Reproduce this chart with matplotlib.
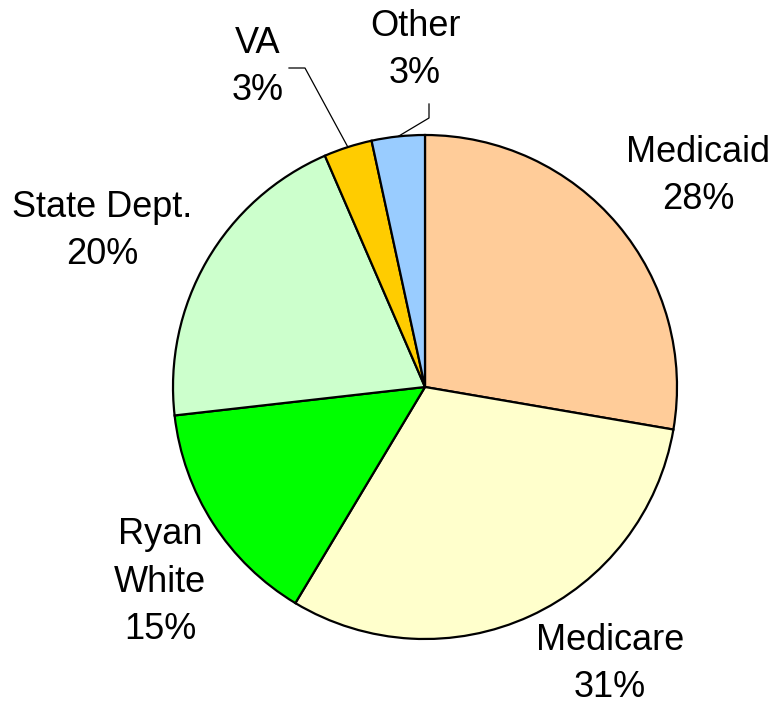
import numpy as np
import matplotlib.pyplot as plt

plt.rcParams['font.family'] = ['Liberation Sans', 'DejaVu Sans']

categories = ["Medicaid", "Medicare", "Ryan\nWhite", "State Dept.", "VA", "Other"]
values = [27.7, 30.9, 14.6, 20.3, 3.1, 3.4]
pct_labels = ["28%", "31%", "15%", "20%", "3%", "3%"]
colors = ["#FFCC99", "#FFFFCC", "#00FF00", "#CCFFCC", "#FFCC00", "#99CCFF"]

W, H = 775, 706
fig = plt.figure(figsize=(W / 100, H / 100), dpi=100)
ax = fig.add_axes([0, 0, 1, 1])

cx, cy, r = 425, H - 387, 252
wedges, _ = ax.pie(values, colors=colors, startangle=90, counterclock=False,
                   center=(cx, cy), radius=r, frame=True,
                   wedgeprops=dict(edgecolor="black", linewidth=1.6))
ax.set_xlim(0, W)
ax.set_ylim(0, H)
ax.set_aspect("equal")
ax.axis("off")

# label positions (pixel coords from top-left)
label_pos = [(698, 176), (610, 664), (160, 582), (102, 231), (258, 67), (415, 50)]
for name, pct, (px, py) in zip(categories, pct_labels, label_pos):
    ax.text(px, H - py, f"{name}\n{pct}", ha="center", va="center",
            fontsize=26, linespacing=1.45)

# leader lines for the small slices
def arc_point(w):
    a = np.deg2rad((w.theta1 + w.theta2) / 2)
    return cx + r * np.cos(a), cy + r * np.sin(a)

x, y = arc_point(wedges[4])
ax.plot([289, 305, x], [H - 68, H - 68, y], color="black", lw=0.9)
x, y = arc_point(wedges[5])
ax.plot([429, 429, x], [H - 104, H - 118, y], color="black", lw=0.9)

fig.savefig("out.png", dpi=100)
